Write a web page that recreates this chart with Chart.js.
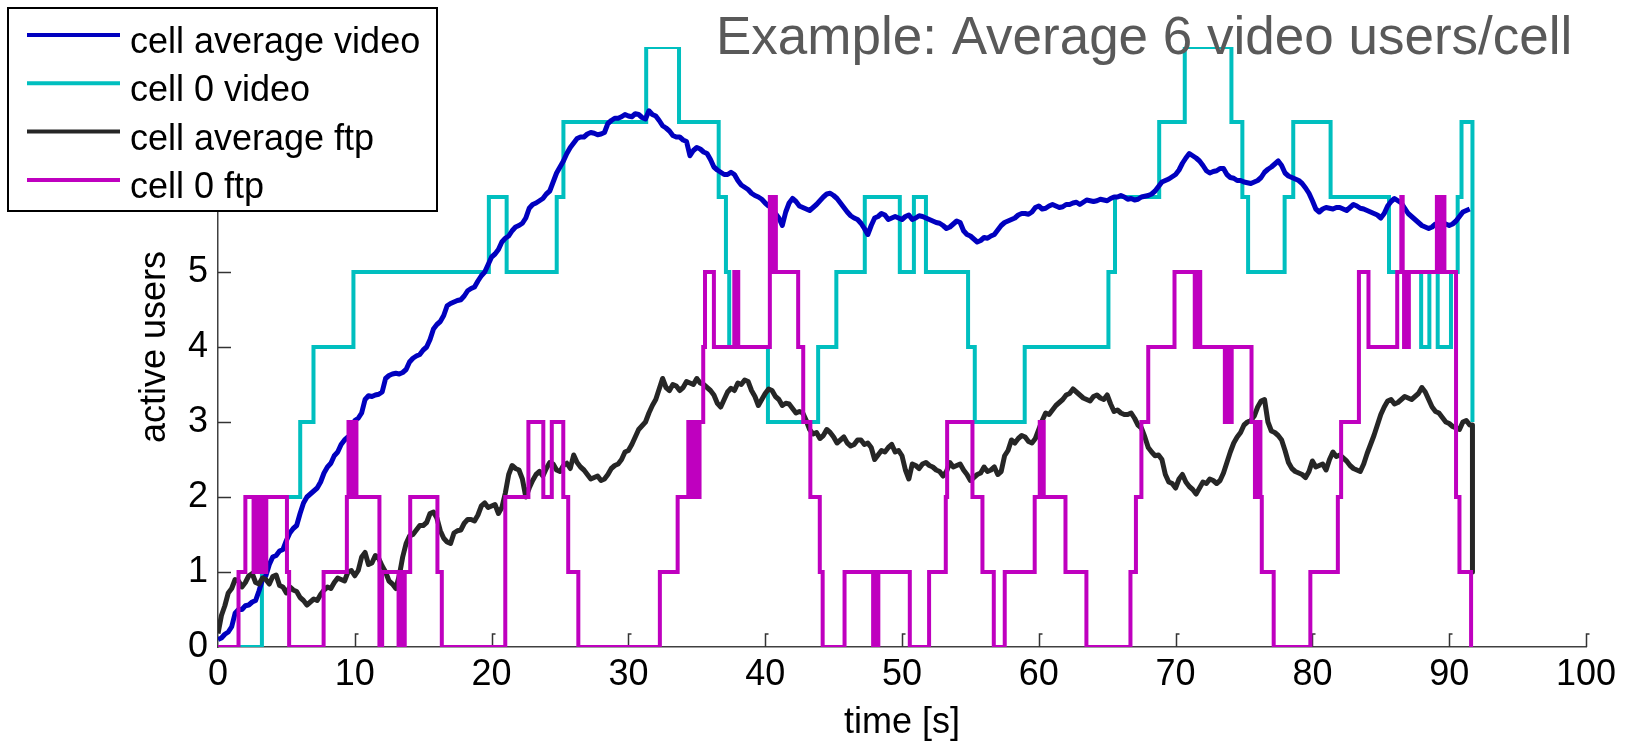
<!DOCTYPE html>
<html><head><meta charset="utf-8">
<script src="https://cdn.jsdelivr.net/npm/chart.js@4.4.1/dist/chart.umd.min.js"></script>
<style>html,body{margin:0;padding:0;background:#fff;} #wrap{position:relative;width:1626px;height:741px;}</style>
</head><body><div id="wrap"><canvas id="c" width="1626" height="741"></canvas></div>
<script>
// ---------------- DATA ----------------
const chartTitle = 'Example: Average 6 video users/cell';
const xAxisLabel = 'time [s]';
const yAxisLabel = 'active users';
const seriesLabels = ['cell average video', 'cell 0 video', 'cell average ftp', 'cell 0 ftp'];

// sample times of the two cell-average curves [s]
const avgTimes = [
 0,0.5,1,1.5,2,2.5,3,3.5,4,4.5,5,5.5,6,6.5,7,7.5,8,8.5,9,9.5,
 10,10.5,11,11.5,12,12.5,13,13.5,14,14.5,15,15.5,16,16.5,17,17.5,18,18.5,19,19.5,
 20,20.5,21,21.5,22,22.5,23,23.5,24,24.5,25,25.5,26,26.5,27,27.5,28,28.5,29,29.5,
 30,30.5,31,31.5,32,32.5,33,33.5,34,34.5,35,35.5,36,36.5,37,37.5,38,38.5,39,39.5,
 40,40.5,41,41.5,42,42.5,43,43.5,44,44.5,45,45.5,46,46.5,47,47.5,48,48.5,49,49.5,
 50,50.5,51,51.5,52,52.5,53,53.5,54,54.5,55,55.5,56,56.5,57,57.5,58,58.5,59,59.5,
 60,60.5,61,61.5,62,62.5,63,63.5,64,64.5,65,65.5,66,66.5,67,67.5,68,68.5,69,69.5,
 70,70.5,71,71.5,72,72.5,73,73.5,74,74.5,75,75.5,76,76.5,77,77.5,78,78.5,79,79.5,
 80,80.5,81,81.5,82,82.5,83,83.5,84,84.5,85,85.5,86,86.5,87,87.5,88,88.5,89,89.5,
 90,90.5,91,91.5];
const avgMidTimes = [
 0.25,0.75,1.25,1.75,2.25,2.75,3.25,3.75,4.25,4.75,5.25,5.75,6.25,6.75,7.25,7.75,8.25,8.75,9.25,9.75,
 10.25,10.75,11.25,11.75,12.25,12.75,13.25,13.75,14.25,14.75,15.25,15.75,16.25,16.75,17.25,17.75,18.25,18.75,19.25,19.75,
 20.25,20.75,21.25,21.75,22.25,22.75,23.25,23.75,24.25,24.75,25.25,25.75,26.25,26.75,27.25,27.75,28.25,28.75,29.25,29.75,
 30.25,30.75,31.25,31.75,32.25,32.75,33.25,33.75,34.25,34.75,35.25,35.75,36.25,36.75,37.25,37.75,38.25,38.75,39.25,39.75,
 40.25,40.75,41.25,41.75,42.25,42.75,43.25,43.75,44.25,44.75,45.25,45.75,46.25,46.75,47.25,47.75,48.25,48.75,49.25,49.75,
 50.25,50.75,51.25,51.75,52.25,52.75,53.25,53.75,54.25,54.75,55.25,55.75,56.25,56.75,57.25,57.75,58.25,58.75,59.25,59.75,
 60.25,60.75,61.25,61.75,62.25,62.75,63.25,63.75,64.25,64.75,65.25,65.75,66.25,66.75,67.25,67.75,68.25,68.75,69.25,69.75,
 70.25,70.75,71.25,71.75,72.25,72.75,73.25,73.75,74.25,74.75,75.25,75.75,76.25,76.75,77.25,77.75,78.25,78.75,79.25,79.75,
 80.25,80.75,81.25,81.75,82.25,82.75,83.25,83.75,84.25,84.75,85.25,85.75,86.25,86.75,87.25,87.75,88.25,88.75,89.25,89.75,
 90.25,90.75,91.25];

const videoAvgValues = [
 0.1,0.17,0.27,0.5,0.55,0.6,0.75,0.95,1.2,1.28,1.42,1.58,1.78,2.0,2.08,2.2,2.4,2.55,2.7,2.8,
 3.02,3.12,3.35,3.36,3.4,3.62,3.65,3.66,3.8,3.88,3.96,4.1,4.3,4.42,4.58,4.62,4.68,4.78,4.88,5.0,
 5.2,5.3,5.45,5.55,5.62,5.72,5.9,5.95,6.04,6.2,6.4,6.58,6.72,6.8,6.84,6.85,6.84,6.98,7.05,7.07,
 7.08,7.11,7.06,7.15,7.08,6.95,6.88,6.8,6.76,6.55,6.66,6.6,6.5,6.36,6.3,6.33,6.22,6.13,6.05,6.0,
 5.92,5.85,5.72,5.8,5.98,5.88,5.84,5.86,5.95,6.04,6.02,5.92,5.8,5.72,5.65,5.5,5.72,5.78,5.7,5.74,
 5.7,5.76,5.72,5.74,5.7,5.66,5.62,5.6,5.68,5.55,5.48,5.4,5.46,5.48,5.56,5.66,5.7,5.76,5.78,5.8,
 5.88,5.85,5.9,5.86,5.9,5.92,5.9,5.96,5.94,5.97,5.95,6.0,6.02,5.97,5.96,6.0,6.02,6.08,6.2,6.24,
 6.3,6.45,6.58,6.52,6.42,6.32,6.35,6.38,6.26,6.22,6.2,6.18,6.22,6.33,6.4,6.48,6.32,6.26,6.22,6.12,
 5.95,5.8,5.86,5.84,5.86,5.82,5.9,5.85,5.82,5.78,5.72,5.88,5.98,5.92,5.78,5.7,5.62,5.58,5.64,5.66,
 5.62,5.68,5.8,5.84];
const videoAvgMidValues = [
 0.12,0.2,0.45,0.5,0.56,0.62,0.9,1.1,1.22,1.3,1.52,1.62,1.92,2.04,2.12,2.32,2.45,2.6,2.76,2.82,
 3.05,3.3,3.34,3.37,3.58,3.64,3.64,3.7,3.85,3.9,4.0,4.24,4.34,4.55,4.6,4.63,4.75,4.8,4.95,5.1,
 5.24,5.4,5.48,5.6,5.65,5.85,5.92,5.98,6.08,6.32,6.48,6.66,6.78,6.8,6.86,6.83,6.86,7.02,7.05,7.1,
 7.07,7.1,7.04,7.1,7.02,6.92,6.82,6.8,6.74,6.62,6.64,6.58,6.4,6.33,6.3,6.3,6.16,6.1,6.02,5.97,
 5.88,5.78,5.62,5.92,5.94,5.86,5.82,5.9,6.0,6.05,5.98,5.86,5.75,5.7,5.58,5.62,5.74,5.76,5.72,5.72,
 5.74,5.7,5.75,5.72,5.68,5.65,5.58,5.64,5.66,5.5,5.44,5.42,5.45,5.5,5.62,5.68,5.72,5.78,5.77,5.86,
 5.84,5.88,5.88,5.87,5.9,5.93,5.93,5.95,5.95,5.96,5.98,6.0,6.0,5.98,5.97,6.01,6.04,6.14,6.22,6.27,
 6.36,6.52,6.55,6.48,6.35,6.34,6.38,6.3,6.25,6.22,6.19,6.2,6.26,6.37,6.44,6.42,6.28,6.24,6.18,6.05,
 5.84,5.84,5.85,5.86,5.84,5.86,5.88,5.84,5.8,5.76,5.78,5.94,5.95,5.85,5.74,5.66,5.6,5.6,5.64,5.64,
 5.64,5.74,5.82];

const ftpAvgValues = [
 0.18,0.55,0.78,0.88,0.86,0.98,0.84,0.9,0.94,0.82,0.72,0.76,0.66,0.56,0.64,0.7,0.8,0.86,0.9,1.0,
 0.95,1.2,1.1,1.22,1.08,0.88,0.78,1.2,1.48,1.56,1.62,1.78,1.72,1.45,1.38,1.55,1.65,1.7,1.76,1.92,
 1.88,1.78,2.05,2.42,2.36,2.0,2.22,2.34,2.38,2.44,2.34,2.45,2.56,2.4,2.3,2.26,2.22,2.3,2.42,2.5,
 2.62,2.8,2.95,3.12,3.3,3.58,3.42,3.48,3.46,3.52,3.58,3.5,3.42,3.25,3.3,3.45,3.52,3.56,3.42,3.22,
 3.38,3.42,3.3,3.25,3.18,3.14,3.02,2.84,2.78,2.9,2.8,2.76,2.72,2.7,2.76,2.72,2.5,2.62,2.66,2.6,
 2.55,2.24,2.42,2.44,2.42,2.36,2.28,2.46,2.42,2.36,2.22,2.3,2.4,2.36,2.3,2.55,2.76,2.78,2.8,2.72,
 2.9,3.12,3.16,3.26,3.36,3.44,3.36,3.3,3.34,3.32,3.36,3.14,3.12,3.1,3.05,2.92,2.66,2.55,2.5,2.2,
 2.12,2.3,2.14,2.04,2.2,2.24,2.18,2.32,2.6,2.8,2.96,3.02,3.2,3.3,2.88,2.82,2.62,2.38,2.32,2.26,
 2.48,2.42,2.36,2.6,2.56,2.48,2.38,2.34,2.58,2.82,3.1,3.28,3.24,3.3,3.32,3.34,3.46,3.3,3.14,3.06,
 2.98,2.92,3.0,2.96];
const ftpAvgMidValues = [
 0.42,0.72,0.9,0.8,0.95,0.86,0.92,0.84,0.96,0.8,0.8,0.74,0.62,0.6,0.62,0.76,0.78,0.92,0.88,1.02,
 1.02,1.26,1.12,1.18,1.0,0.84,0.95,1.38,1.5,1.62,1.66,1.8,1.55,1.4,1.52,1.56,1.7,1.68,1.88,1.86,
 1.9,1.86,2.3,2.38,2.24,2.12,2.3,2.28,2.46,2.36,2.42,2.38,2.46,2.36,2.24,2.28,2.24,2.38,2.44,2.6,
 2.7,2.9,3.0,3.22,3.44,3.46,3.5,3.42,3.54,3.5,3.52,3.46,3.36,3.2,3.4,3.42,3.5,3.54,3.34,3.3,
 3.44,3.34,3.22,3.24,3.12,3.12,2.9,2.86,2.82,2.86,2.72,2.8,2.68,2.76,2.7,2.66,2.56,2.6,2.7,2.62,
 2.36,2.44,2.38,2.46,2.4,2.34,2.34,2.4,2.44,2.3,2.26,2.32,2.34,2.4,2.34,2.62,2.72,2.82,2.74,2.78,
 3.02,3.1,3.22,3.3,3.38,3.4,3.32,3.28,3.36,3.3,3.24,3.16,3.1,3.12,2.96,2.8,2.6,2.56,2.3,2.18,
 2.24,2.2,2.1,2.12,2.18,2.22,2.22,2.46,2.72,2.86,3.0,3.08,3.28,3.0,2.86,2.76,2.46,2.34,2.3,2.34,
 2.4,2.44,2.5,2.54,2.52,2.42,2.36,2.44,2.7,2.96,3.2,3.3,3.26,3.34,3.3,3.38,3.4,3.2,3.12,3.0,
 2.94,2.9,3.02];
const ftpAvgEndTimes = [91.7, 91.7];
const ftpAvgEndValues = [2.96, 1.0];

// step series: value holds from its time until the next time
const videoCell0Times = [0,3.21,6.01,6.98,9.9,19.8,21.1,24.76,25.25,31.3,
 33.7,36.6,37.13,37.37,40.2,43.87,45.2,47.28,49.84,50.87,
 51.75,54.83,55.32,58.97,65.09,65.57,68.8,70.67,74.08,74.88,
 75.3,77.97,78.6,81.33,85.6,87.95,88.55,89.16,90.13,90.62,
 90.9,91.7];
const videoCell0Values = [0,2,3,4,5,6,5,6,7,8,
 7,6,5,4,3,4,5,6,5,6,
 5,4,3,4,5,6,7,8,7,6,
 5,6,7,6,5,4,5,4,5,6,
 7,3];

const ftpCell0Times = [0,1.5,2.0,2.6,2.75,2.9,3.05,3.2,3.35,3.45,
 3.53,5.04,5.2,7.72,9.42,9.54,9.7,9.85,9.95,10.05,
 10.12,11.8,12.0,13.2,13.35,13.5,13.65,14.05,16.04,16.36,
 21.0,22.69,23.78,24.4,25.24,25.6,26.34,32.3,33.6,34.38,
 34.55,34.7,34.85,35.0,35.1,35.2,35.47,35.6,36.25,37.74,
 37.85,37.95,38.03,40.34,40.45,40.55,40.65,40.72,40.78,42.41,
 42.78,43.3,43.99,44.2,45.8,47.89,48.0,48.1,48.27,50.57,
 51.98,53.2,53.3,55.15,55.88,56.71,57.51,59.7,60.07,60.17,
 60.27,60.36,61.95,63.48,66.7,67.1,67.5,68.0,69.92,71.4,
 71.5,71.6,71.7,71.8,73.6,73.7,73.8,73.9,74.0,74.1,
 75.55,75.8,75.9,76.0,76.1,76.2,76.3,77.17,79.85,81.86,
 82.1,83.4,84.1,86.2,86.5,86.6,86.7,86.8,86.9,87.05,
 89.1,89.2,89.3,89.4,89.5,89.65,90.5,90.75,91.6];
const ftpCell0Values = [0,1,2,1,2,1,2,1,2,1,
 2,1,0,1,2,3,2,3,2,3,
 2,0,1,0,1,0,1,2,1,0,
 2,3,2,3,2,1,0,1,2,3,
 2,3,2,3,2,3,4,5,4,5,
 4,5,4,6,5,6,5,6,5,4,
 3,2,1,0,1,0,1,0,1,0,
 1,2,3,2,1,0,1,2,3,2,
 3,2,1,0,1,2,3,4,5,4,
 5,4,5,4,3,4,3,4,3,4,
 3,2,3,2,3,2,1,0,1,2,
 3,5,4,5,6,5,4,5,4,5,
 6,5,6,5,6,5,2,1,0];

// ---------------- CHART ----------------
const FONT = '"Liberation Sans", Arial, Helvetica, sans-serif';
function pts(ts, vs) { return ts.map((t, i) => ({x: t, y: vs[i]})); }
function merged(t1, v1, t2, v2) { return pts(t1, v1).concat(pts(t2, v2)).sort((a, b) => a.x - b.x); }

const overlay = {
  id: 'overlay',
  beforeDatasetsDraw(chart) {
    const {ctx, scales: {x, y}} = chart;
    ctx.save();
    ctx.strokeStyle = '#333';
    ctx.lineWidth = 1.5;
    const y0 = y.getPixelForValue(0);
    const x0 = x.getPixelForValue(0);
    x.ticks.forEach(t => {
      if (t.value === 0) return;
      const px = Math.round(x.getPixelForValue(t.value)) + 0.5;
      ctx.beginPath(); ctx.moveTo(px, y0); ctx.lineTo(px, y0 - 13); ctx.lineTo(px + 3, y0 - 13); ctx.stroke();
    });
    y.ticks.forEach(t => {
      if (t.value === 0) return;
      const py = Math.round(y.getPixelForValue(t.value)) + 0.5;
      ctx.beginPath(); ctx.moveTo(x0, py); ctx.lineTo(x0 + 13, py); ctx.stroke();
    });
    ctx.restore();
  },
  afterDraw(chart) {
    const ctx = chart.ctx;
    ctx.save();
    ctx.font = '53px ' + FONT;
    ctx.fillStyle = '#595959';
    ctx.textAlign = 'left';
    ctx.textBaseline = 'alphabetic';
    ctx.fillText(chartTitle, 716, 54);
    // legend box
    ctx.fillStyle = '#fff';
    ctx.fillRect(8, 8, 429, 203);
    ctx.strokeStyle = '#000';
    ctx.lineWidth = 2;
    ctx.strokeRect(8, 8, 429, 203);
    ctx.font = '36px ' + FONT;
    ctx.fillStyle = '#000';
    chart.data.datasets.forEach((ds, i) => {
      const ly = 35 + 48.3 * i;
      ctx.strokeStyle = ds.borderColor;
      ctx.lineWidth = 4;
      ctx.beginPath(); ctx.moveTo(27, ly); ctx.lineTo(120, ly); ctx.stroke();
      ctx.fillText(ds.label, 130, ly + 18);
    });
    ctx.restore();
  }
};

new Chart(document.getElementById('c'), {
  type: 'line',
  data: {
    datasets: [
      {label: seriesLabels[0], data: merged(avgTimes, videoAvgValues, avgMidTimes, videoAvgMidValues), borderColor: '#0000BF', borderWidth: 5, order: 2, borderJoinStyle: 'round'},
      {label: seriesLabels[1], data: pts(videoCell0Times, videoCell0Values), borderColor: '#00BFBF', borderWidth: 4, stepped: 'before', order: 3},
      {label: seriesLabels[2], data: merged(avgTimes, ftpAvgValues, avgMidTimes, ftpAvgMidValues).concat(pts(ftpAvgEndTimes, ftpAvgEndValues)), borderColor: '#262626', borderWidth: 5, order: 1, borderJoinStyle: 'round'},
      {label: seriesLabels[3], data: pts(ftpCell0Times, ftpCell0Values), borderColor: '#BF00BF', borderWidth: 4, stepped: 'before', order: 0}
    ]
  },
  options: {
    responsive: false,
    devicePixelRatio: 1,
    animation: false,
    layout: {padding: {top: 47, right: 40, left: 0, bottom: 0}},
    elements: {point: {radius: 0}, line: {tension: 0, fill: false}},
    plugins: {legend: {display: false}, tooltip: {enabled: false}},
    scales: {
      x: {
        type: 'linear', min: 0, max: 100,
        afterFit(s) { s.height = 94; },
        ticks: {stepSize: 10, autoSkip: false, maxRotation: 0, padding: 6, color: '#000', font: {family: FONT, size: 36}},
        grid: {display: true, drawOnChartArea: false, drawTicks: false},
        border: {display: true, color: '#404040', width: 1.5},
        title: {display: true, text: xAxisLabel, color: '#000', font: {family: FONT, size: 36, lineHeight: 1}, padding: {top: 9, bottom: 0}}
      },
      y: {
        type: 'linear', min: 0, max: 8,
        afterFit(s) { s.width = 218; },
        ticks: {stepSize: 1, includeBounds: false, padding: 10, color: '#000', font: {family: FONT, size: 36}},
        grid: {display: true, drawOnChartArea: false, drawTicks: false},
        border: {display: true, color: '#404040', width: 1.5},
        title: {display: true, text: yAxisLabel, color: '#000', font: {family: FONT, size: 36, lineHeight: 1.2}, padding: {top: 133, bottom: 0}}
      }
    }
  },
  plugins: [overlay]
});
</script>
</body></html>
